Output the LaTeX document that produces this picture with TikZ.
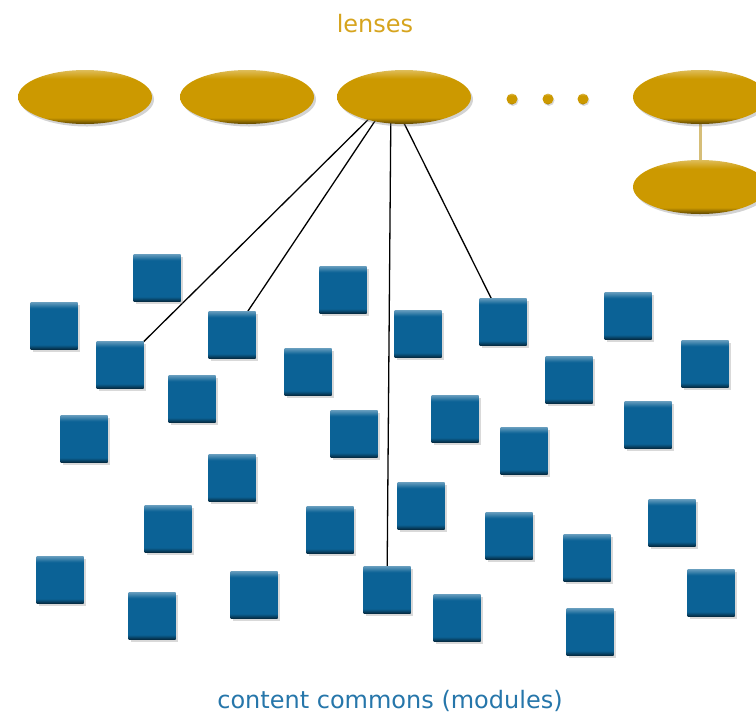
\documentclass[tikz,border=0pt]{standalone}
\usepackage{fontspec}
\setmainfont{DejaVu Sans}
\usetikzlibrary{shapes.geometric,shadows}

\definecolor{lensgold}{RGB}{204,153,0}
\definecolor{lenstext}{RGB}{214,164,30}
\definecolor{modblue}{RGB}{11,98,150}
\definecolor{modtext}{RGB}{38,118,170}
\definecolor{linktan}{RGB}{214,190,120}

% flat middle, light top rim, dark bottom rim
\pgfdeclareverticalshading{lensbevel}{100bp}{color(0bp)=(lensgold!45!black);
    color(25bp)=(lensgold!45!black); color(31bp)=(lensgold); color(67bp)=(lensgold);
    color(75bp)=(lensgold!65!white); color(100bp)=(lensgold!65!white)}
\pgfdeclareverticalshading{modbevel}{100bp}{color(0bp)=(modblue!40!black);
    color(25bp)=(modblue!40!black); color(30bp)=(modblue); color(69bp)=(modblue);
    color(75bp)=(modblue!65!white); color(100bp)=(modblue!65!white)}

\pgfdeclarelayer{background}
\pgfsetlayers{background,main}

\begin{document}
\begin{tikzpicture}[x=1pt, y=-1pt,
    lens/.style={ellipse, minimum width=134pt, minimum height=54pt, inner sep=0pt,
        shading=lensbevel,
        drop shadow={shadow xshift=2pt, shadow yshift=-2.5pt, opacity=.35}},
    lensdot/.style={circle, minimum size=11pt, inner sep=0pt,
        shading=lensbevel,
        drop shadow={shadow xshift=1pt, shadow yshift=-1.5pt, opacity=.3}},
    module/.style={rectangle, minimum size=47pt, inner sep=0pt,
        shading=modbevel,
        drop shadow={shadow xshift=2.5pt, shadow yshift=-2.5pt, opacity=.3}},
    caption/.style={font=\fontsize{24}{28}\selectfont, anchor=base}]

    \useasboundingbox (0,0) rectangle (756,716);

    % lenses
    \node [caption, text=lenstext] (lensestitle) at (375,32) {lenses};
    \node [lens] (lens1) at (85,97) {};
    \node [lens] (lens2) at (247,97) {};
    \node [lens] (lens3) at (404,97) {};
    \node [lens] (lens4) at (700,97) {};
    \node [lens] (lens5) at (700,187) {};
    \node [lensdot] (dot1) at (512,99) {};
    \node [lensdot] (dot2) at (548,99) {};
    \node [lensdot] (dot3) at (583,99) {};

    % content commons
    \foreach \i/\x/\y in {1/157/278, 2/54/326, 3/120/365, 4/232/335, 5/343/290,
        6/192/399, 7/308/372, 8/84/439, 9/418/334, 10/503/322, 11/628/316,
        12/705/364, 13/569/380, 14/354/434, 15/455/419, 16/524/451, 17/648/425,
        18/232/478, 19/168/529, 20/330/530, 21/421/506, 22/509/536, 23/587/558,
        24/672/523, 25/60/580, 26/152/616, 27/254/595, 28/387/590, 29/457/618,
        30/590/632, 31/711/593}
        \node [module] (mod\i) at (\x,\y) {};
    \node [caption, text=modtext] (modulestitle) at (390,708) {content commons (modules)};

    % links
    \coordinate (hub) at ([xshift=-13pt]lens3.center);
    \begin{pgfonlayer}{background}
        \draw [line width=3pt, linktan] (lens4) -- (lens5);
        \draw [line width=1.3pt] (hub) -- (mod3);
        \draw [line width=1.3pt] (hub) -- (mod4);
        \draw [line width=1.3pt] (hub) -- (mod28);
        \draw [line width=1.3pt] (hub) -- (mod10);
    \end{pgfonlayer}

\end{tikzpicture}
\end{document}
